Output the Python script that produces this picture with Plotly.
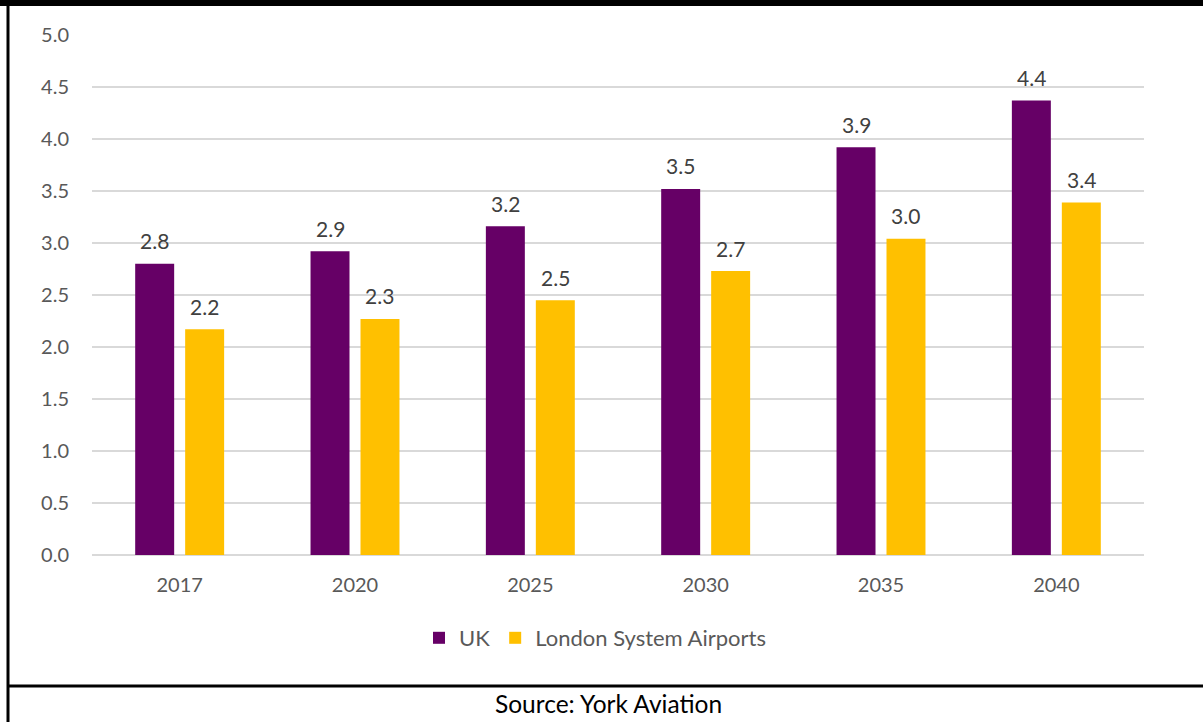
import plotly.graph_objects as go

years = ["2017", "2020", "2025", "2030", "2035", "2040"]
uk = [2.80, 2.92, 3.16, 3.52, 3.92, 4.37]
london = [2.17, 2.27, 2.45, 2.73, 3.04, 3.39]
series_names = ["UK", "London System Airports"]
colors = ["#660066", "#FFC000"]
y_ticks = [0.0, 0.5, 1.0, 1.5, 2.0, 2.5, 3.0, 3.5, 4.0, 4.5, 5.0]
source_text = "Source: York Aviation"

W, H = 1203, 722
ML, MR, MT, MB = 92, 59, 35, 167
PW, PH = W - ML - MR, H - MT - MB
BARGAP = 0.43
BARGROUPGAP = 0.22

def px_x(p):
    return (p - ML) / PW

def px_y(p):
    return (H - MB - p) / PH

FONT = "Lato, 'Open Sans', sans-serif"

fig = go.Figure()
for name, vals, col in zip(series_names, [uk, london], colors):
    fig.add_trace(go.Bar(
        x=years, y=vals, name=name, marker=dict(color=col, line=dict(width=0)),
    ))

# value labels above bars
slot = (1 - BARGAP) / len(series_names)
for s, vals in enumerate([uk, london]):
    off = (s - (len(series_names) - 1) / 2) * slot
    for i, v in enumerate(vals):
        fig.add_annotation(x=i + off, y=v, xref="x", yref="y", text=f"{v:.1f}",
                           showarrow=False, yanchor="middle", yshift=23,
                           font=dict(family=FONT, size=21, color="#404040"))

fig.update_layout(
    width=W, height=H,
    margin=dict(l=ML, r=MR, t=MT, b=MB),
    paper_bgcolor="white", plot_bgcolor="white",
    barmode="group", bargap=BARGAP, bargroupgap=BARGROUPGAP,
    font=dict(family=FONT, color="#595959", size=20),
    showlegend=True,
    legend=dict(orientation="h", x=px_x(595), y=px_y(638), xanchor="center", yanchor="middle",
                font=dict(family=FONT, size=22, color="#595959"), itemwidth=30,
                traceorder="normal"),
    xaxis=dict(type="category", showgrid=False, showline=False, ticks="",
               tickfont=dict(family=FONT, size=20, color="#595959"), ticklabelstandoff=16),
    yaxis=dict(range=[0, 5.0], tickvals=y_ticks, tickformat=".1f", showgrid=True,
               gridcolor="#D9D9D9", gridwidth=1.5, zeroline=True, zerolinecolor="#D9D9D9",
               zerolinewidth=1.5, showline=False, ticks="", ticklabelstandoff=22,
               tickfont=dict(family=FONT, size=20, color="#595959")),
)

shapes = [
    dict(type="rect", xref="paper", yref="paper", x0=px_x(0), x1=px_x(W), y0=px_y(6), y1=px_y(0),
         fillcolor="black", line=dict(width=0), layer="above"),
    dict(type="line", xref="paper", yref="paper", x0=px_x(8), x1=px_x(8), y0=px_y(0), y1=px_y(H),
         line=dict(color="black", width=3)),
    dict(type="line", xref="paper", yref="paper", x0=px_x(7), x1=px_x(W), y0=px_y(686), y1=px_y(686),
         line=dict(color="black", width=3)),
]
fig.update_layout(shapes=shapes)
fig.add_annotation(text=source_text, xref="paper", yref="paper", x=px_x(608), y=px_y(704),
                   showarrow=False, xanchor="center", yanchor="middle",
                   font=dict(family=FONT, size=24.5, color="black"))

fig.write_html("out.html", config={"displayModeBar": False},
               post_script="document.body.style.margin='0';document.body.style.overflow='hidden';")
